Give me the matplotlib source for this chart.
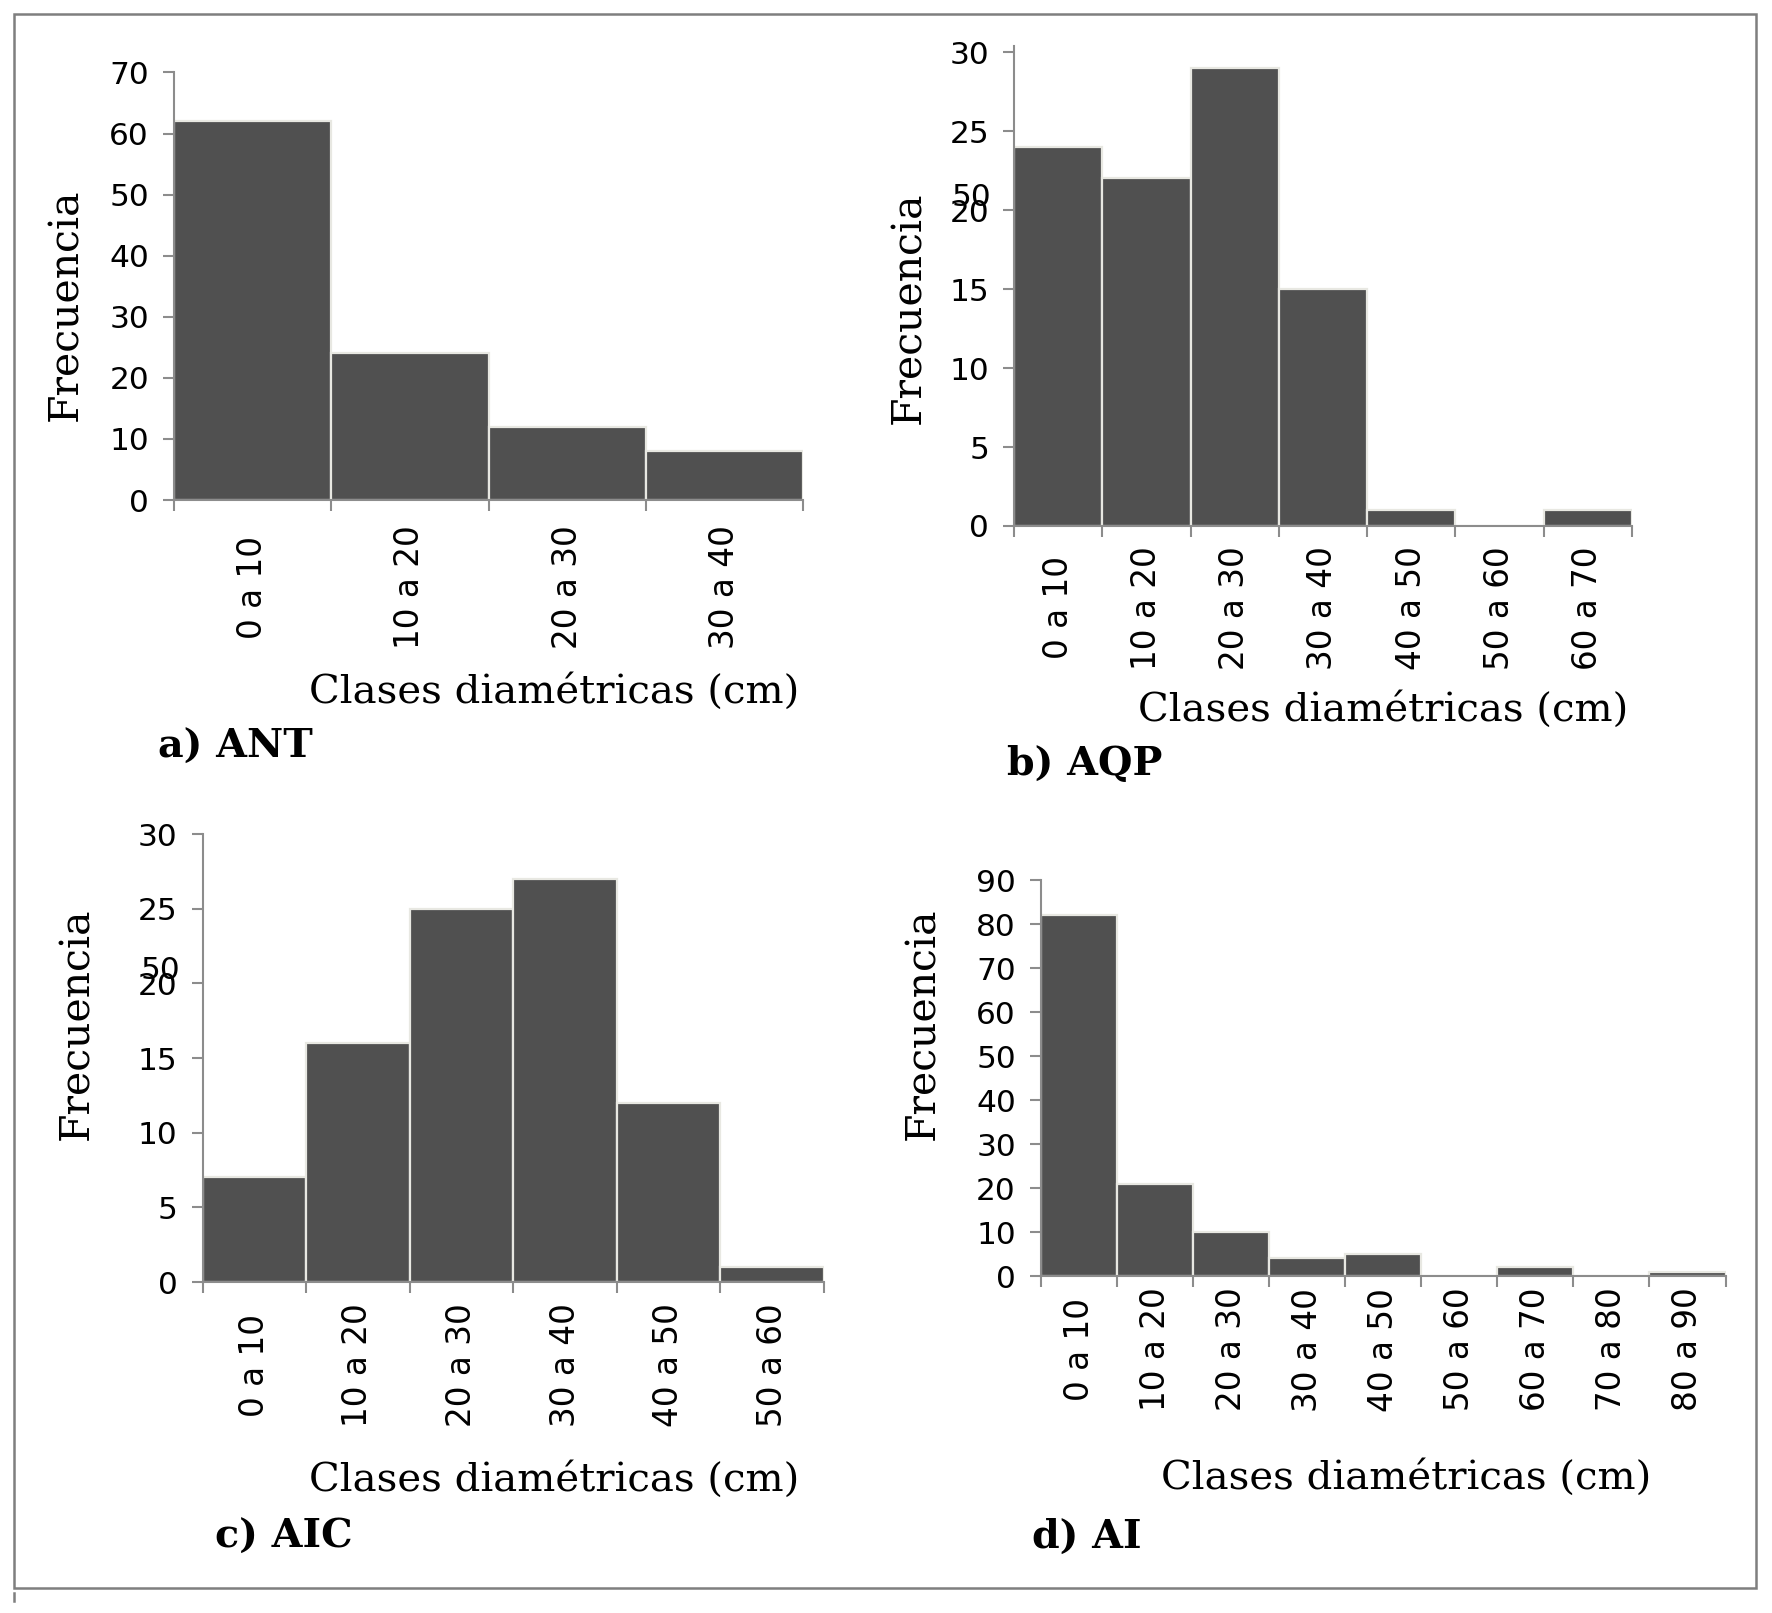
import numpy as np
import matplotlib
matplotlib.use("Agg")
import matplotlib.pyplot as plt
from matplotlib.patches import Rectangle
from matplotlib.lines import Line2D

# ---------------- data ----------------
classes_a = ["0 a 10", "10 a 20", "20 a 30", "30 a 40"]
freq_a = [62, 24, 12, 8]

classes_b = ["0 a 10", "10 a 20", "20 a 30", "30 a 40", "40 a 50", "50 a 60", "60 a 70"]
freq_b = [24, 22, 29, 15, 1, 0, 1]

classes_c = ["0 a 10", "10 a 20", "20 a 30", "30 a 40", "40 a 50", "50 a 60"]
freq_c = [7, 16, 25, 27, 12, 1]

classes_d = ["0 a 10", "10 a 20", "20 a 30", "30 a 40", "40 a 50",
             "50 a 60", "60 a 70", "70 a 80", "80 a 90"]
freq_d = [82, 21, 10, 4, 5, 0, 2, 0, 1]

yticks_a = [0, 10, 20, 30, 40, 50, 60, 70]
yticks_b = [0, 5, 10, 15, 20, 25, 30]
yticks_c = [0, 5, 10, 15, 20, 25, 30]
yticks_d = [0, 10, 20, 30, 40, 50, 60, 70, 80, 90]

titles = ["a) ANT", "b) AQP", "c) AIC", "d) AI"]
xlabel = "Clases diamétricas (cm)"
ylabel = "Frecuencia"

# ---------------- layout ----------------
W, H = 1772, 1613
fig = plt.figure(figsize=(W / 100, H / 100), dpi=100)

def fx(px):
    return px / W

def fy(py):
    return 1 - py / H

BAR = "#505050"
EDGE = "#e8e8e2"
AX = "#8c8c8c"
NUM_FONT = "DejaVu Sans"
LAB_FONT = "DejaVu Serif"

panels = [
    dict(l=174, r=803, t=72.5, z=500, ytop=70, cls=classes_a, f=freq_a, yt=yticks_a, pad=63,
         yl=(66, 305), xl=(554, 692), ti=(158, 747), ghost=False),
    dict(l=1014, r=1632, t=45.7, z=526, ytop=30.4, cls=classes_b, f=freq_b, yt=yticks_b, pad=59,
         yl=(909, 308), xl=(1383, 710), ti=(1007, 764), ghost=True),
    dict(l=202.5, r=824, t=834, z=1282, ytop=30, cls=classes_c, f=freq_c, yt=yticks_c, pad=60,
         yl=(77, 1024), xl=(554, 1480), ti=(215, 1537), ghost=True),
    dict(l=1041, r=1725.5, t=880, z=1276, ytop=90, cls=classes_d, f=freq_d, yt=yticks_d, pad=53,
         yl=(923, 1024), xl=(1406, 1478), ti=(1032, 1537), ghost=False),
]

for p, title in zip(panels, titles):
    ax = fig.add_axes([fx(p["l"]), fy(p["z"]), fx(p["r"] - p["l"]), (p["z"] - p["t"]) / H])
    n = len(p["f"])
    x = np.arange(n) + 0.5
    ax.bar(x, p["f"], width=1.0, color=BAR, edgecolor=EDGE, linewidth=1.6, zorder=2)
    ax.set_xlim(0, n)
    ax.set_ylim(0, p["ytop"])
    for s in ["top", "right"]:
        ax.spines[s].set_visible(False)
    for s in ["left", "bottom"]:
        ax.spines[s].set_color(AX)
        ax.spines[s].set_linewidth(1.5)
        ax.spines[s].set_zorder(3)
    ax.set_yticks(p["yt"])
    ax.set_yticklabels([str(v) for v in p["yt"]], fontfamily=NUM_FONT, fontsize=22.5)
    ax.tick_params(axis="y", length=8, width=1.5, color=AX, pad=10)
    ax.set_xticks(np.arange(n + 1))
    ax.set_xticklabels([])
    ax.set_xticks(x, minor=True)
    ax.set_xticklabels(p["cls"], minor=True, rotation=90, fontfamily=NUM_FONT,
                       fontsize=23.5, va="center", ha="center")
    ax.tick_params(axis="x", which="major", length=8, width=1.5, color=AX)
    ax.tick_params(axis="x", which="minor", length=0, pad=p["pad"])
    if p["ghost"]:
        ax.annotate("50", xy=(0, 20), xycoords=ax.get_yaxis_transform(),
                    xytext=(-16, 9), textcoords="offset points", ha="right", va="center",
                    fontfamily=NUM_FONT, fontsize=22.5)
    fig.text(fx(p["yl"][0]), fy(p["yl"][1]), ylabel, rotation=90, ha="center", va="center",
             fontfamily=LAB_FONT, fontsize=29.5)
    fig.text(fx(p["xl"][0]), fy(p["xl"][1]), xlabel, ha="center", va="center",
             fontfamily=LAB_FONT, fontsize=29)
    fig.text(fx(p["ti"][0]), fy(p["ti"][1]), title, ha="left", va="center",
             fontfamily=LAB_FONT, fontweight="bold", fontsize=28.5)

# outer frame
fig.add_artist(Rectangle((fx(13.5), fy(1588)), fx(1756 - 13.5), (1588 - 13.5) / H,
                         transform=fig.transFigure, fill=False, edgecolor="#7f7f7f", lw=1.8))
fig.add_artist(Line2D([fx(13.5), fx(13.5)], [fy(1593), fy(1601)], transform=fig.transFigure,
                      color="#7f7f7f", lw=1.8))

fig.savefig("out.png", dpi=100, facecolor="white")
